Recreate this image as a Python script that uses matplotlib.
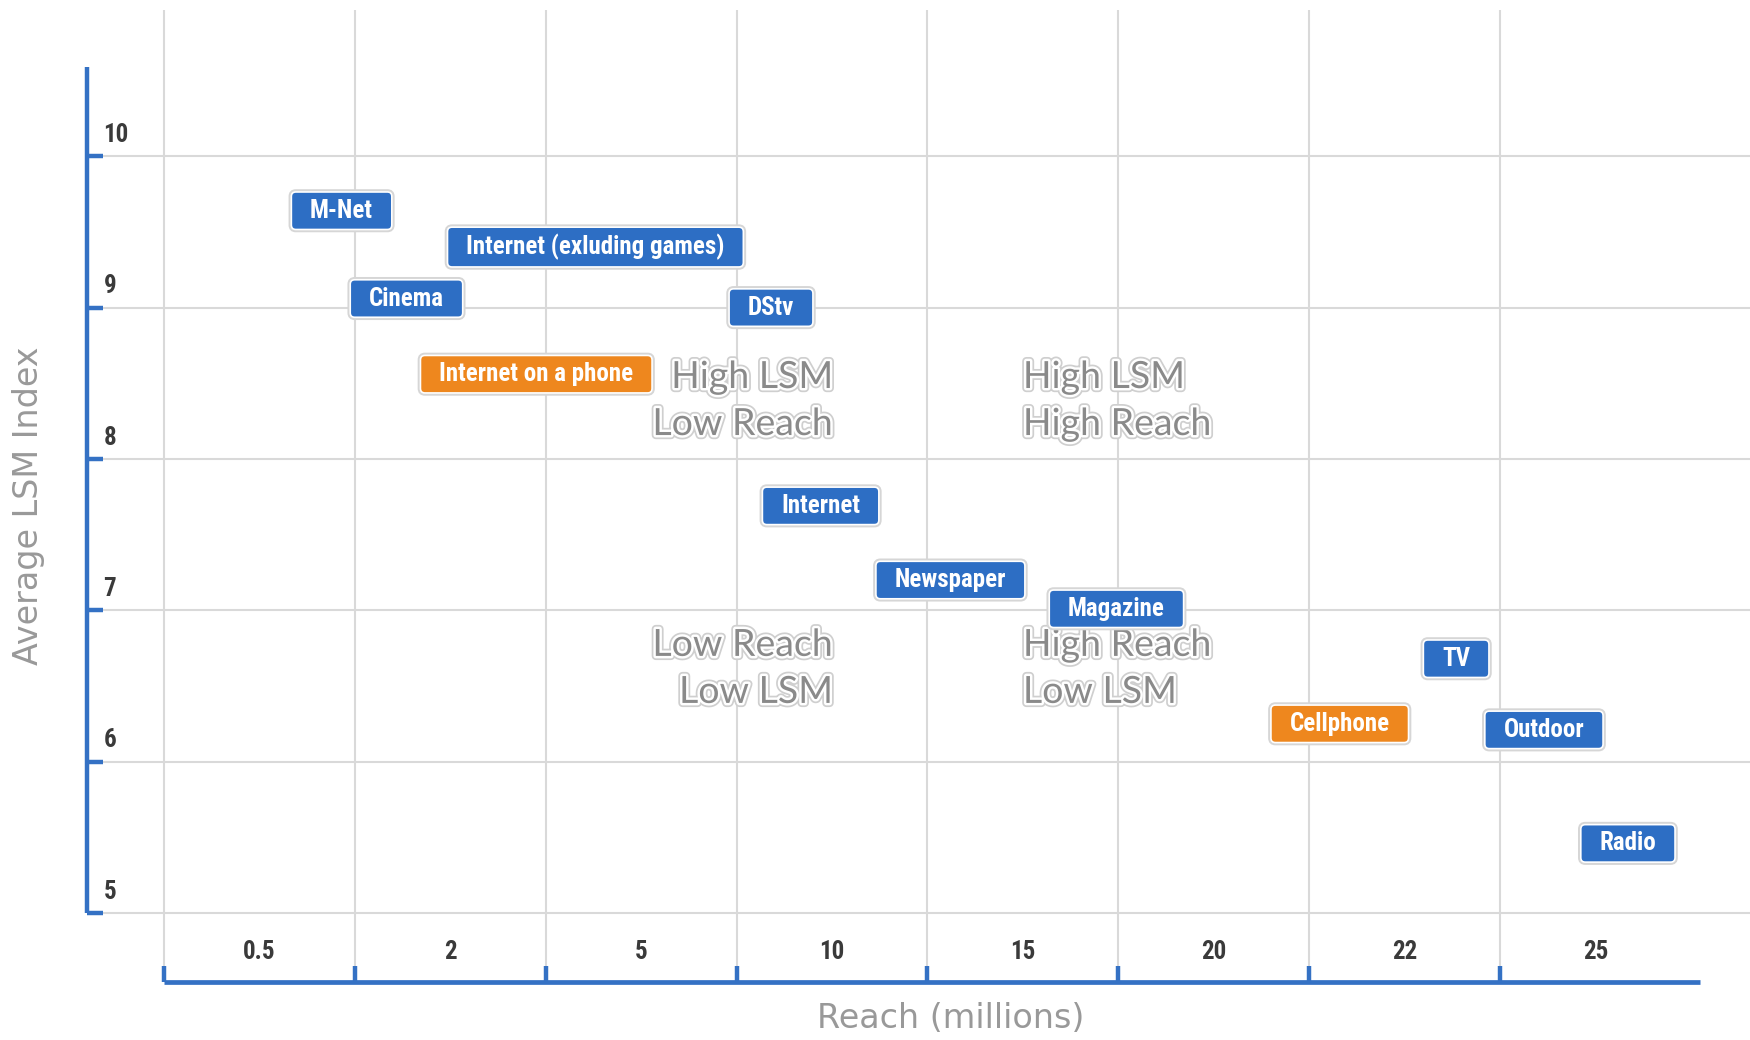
# 媒体覆盖率 vs 平均 LSM 指数
import matplotlib
matplotlib.use('Agg')
import matplotlib.pyplot as plt
import matplotlib.patheffects as pe
from matplotlib.patches import BoxStyle

# 数据 (x 为类别轴上的位置, 每格一个 reach 档位)
media = ['M-Net', 'Internet (exluding games)', 'Cinema', 'DStv', 'Internet on a phone',
         'Internet', 'Newspaper', 'Magazine', 'TV', 'Cellphone', 'Outdoor', 'Radio']
reach_pos = [0.93, 2.26, 1.27, 3.18, 1.95, 3.44, 4.12, 4.99, 6.77, 6.16, 7.23, 7.67]
lsm = [9.64, 9.40, 9.06, 9.00, 8.56, 7.69, 7.20, 7.01, 6.68, 6.25, 6.21, 5.46]
is_phone = [False, False, False, False, True, False, False, False, False, True, False, False]

reach_labels = ['0.5', '2', '5', '10', '15', '20', '22', '25']
lsm_ticks = [5, 6, 7, 8, 9, 10]

blue = '#2d6ec4'
orange = '#ee871e'
axis_blue = '#3471c4'
grid_c = '#d9d9d9'
label_font = ['Roboto Condensed', 'Liberation Sans Narrow', 'DejaVu Sans']


def label_box(x0, y0, width, height, mutation_size):
    # 横向留白比纵向大的圆角框
    padx, pady = 0.75 * mutation_size, 0.27 * mutation_size
    return BoxStyle.Round(pad=0, rounding_size=0.18)(
        x0 - padx, y0 - pady, width + 2 * padx, height + 2 * pady, mutation_size)


fig = plt.figure(figsize=(17.5, 10.4), dpi=100)
ax = fig.add_axes([0, 0, 1, 1])
ax.set_xlim(-164.1 / 190.85, (1750 - 164.1) / 190.85)
ax.set_ylim(10 - (1040 - 156.25) / 151.35, 10 + 156.25 / 151.35)
ax.axis('off')

x_axis_y = 4.544
y_axis_x = -0.404

# 网格
ax.hlines(lsm_ticks, y_axis_x, 8.32, color=grid_c, lw=1.5, zorder=1)
ax.vlines(range(len(reach_labels)), 4.65, 10.966, color=grid_c, lw=1.5, zorder=1)

# 坐标轴
ax.plot([y_axis_x, y_axis_x], [5, 10.59], color=axis_blue, lw=3.2, solid_capstyle='butt', zorder=2)
ax.hlines(lsm_ticks, y_axis_x, -0.318, color=axis_blue, lw=3.2, zorder=2)
ax.plot([0, 8.05], [x_axis_y, x_axis_y], color=axis_blue, lw=3.4, solid_capstyle='butt', zorder=2)
ax.vlines(range(len(reach_labels)), x_axis_y, 4.65, color=axis_blue, lw=3.2, zorder=2)

for v in lsm_ticks:
    ax.text(-0.318, v + 0.157, str(v), ha='left', va='center_baseline', fontsize=18,
            fontweight='bold', fontstretch='condensed', color='#3a3a3a', family=label_font)
for i, lab in enumerate(reach_labels):
    ax.text(i + 0.5, 4.762, lab, ha='center', va='center_baseline', fontsize=18,
            fontweight='bold', fontstretch='condensed', color='#3a3a3a', family=label_font)

ax.text(-0.713, 7.689, 'Average LSM Index', rotation=90, ha='center', va='center',
        fontsize=24, color='#999999', family='DejaVu Sans')
ax.text(4.123, 4.30, 'Reach (millions)', ha='center', va='center',
        fontsize=24, color='#999999', family='DejaVu Sans')

# 象限说明
halo = [pe.Stroke(linewidth=6, foreground='#cfcfcf'), pe.Stroke(linewidth=3.5, foreground='white'), pe.Normal()]
quadrants = [('High LSM\nLow Reach', 3.505, 8.158, 'right'),
             ('High LSM\nHigh Reach', 4.500, 8.158, 'left'),
             ('Low Reach\nLow LSM', 3.505, 6.388, 'right'),
             ('High Reach\nLow LSM', 4.500, 6.388, 'left')]
for txt, qx, qy, ha in quadrants:
    ax.text(qx, qy, txt, ha=ha, va='baseline', multialignment=ha, fontsize=27,
            color='#8a8a8a', family='Lato', linespacing=1.38, path_effects=halo, zorder=3)

# 媒体标签
for name, x, y, phone in zip(media, reach_pos, lsm, is_phone):
    t = ax.text(x, y, name, ha='center', va='center', fontsize=18, fontweight='bold',
                fontstretch='condensed', color='white', family=label_font, zorder=5,
                bbox=dict(boxstyle=label_box, facecolor=orange if phone else blue,
                          edgecolor='white', linewidth=1.2))
    t.get_bbox_patch().set_path_effects([pe.Stroke(linewidth=4, foreground='#d6d6d6'), pe.Normal()])

fig.savefig('out.png', dpi=100)
